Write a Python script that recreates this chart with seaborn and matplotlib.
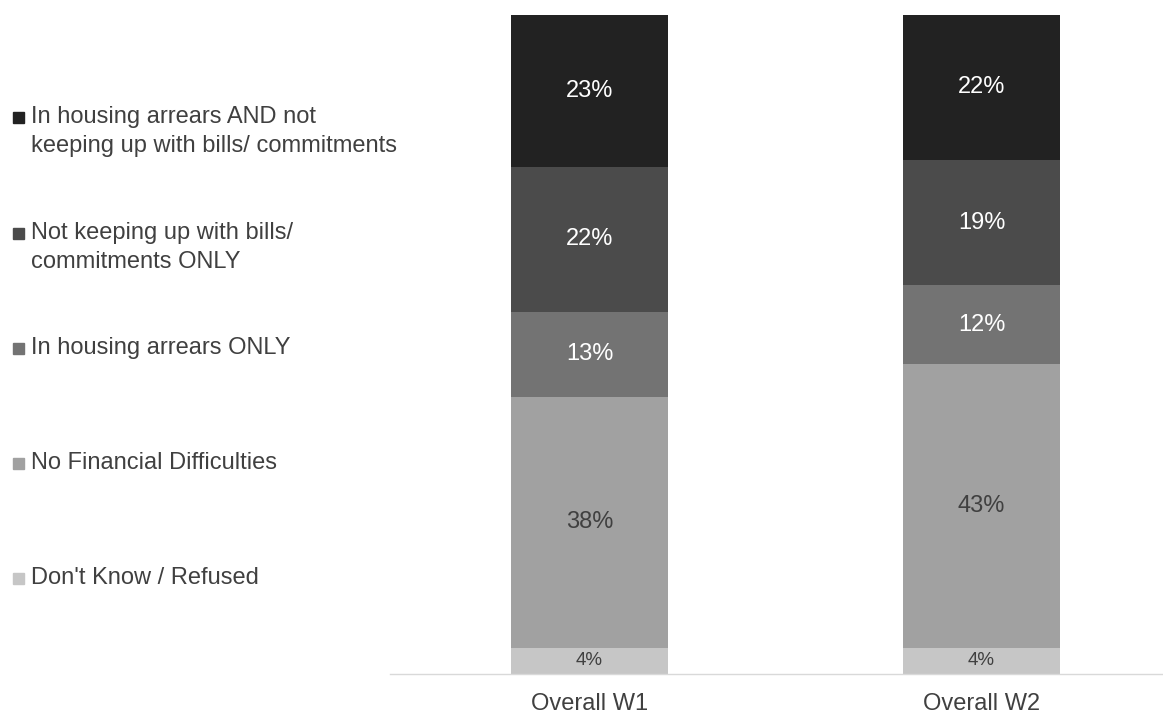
import matplotlib
matplotlib.use("Agg")
import matplotlib.pyplot as plt
import matplotlib.patches as mpatches
import pandas as pd
import seaborn as sns

waves = ["Overall W1", "Overall W2"]

# stacked from the bottom up
groups = [
    "Don't Know / Refused",
    "No Financial Difficulties",
    "In housing arrears ONLY",
    "Not keeping up with bills/\ncommitments ONLY",
    "In housing arrears AND not\nkeeping up with bills/ commitments",
]
w1_values = [4, 38, 13, 22, 23]
w2_values = [4, 43, 12, 19, 22]

colors = ["#c6c6c6", "#a1a1a1", "#737373", "#4b4b4b", "#222222"]
label_colors = ["#404040", "#404040", "white", "white", "white"]
label_sizes = [13.5, 17, 17, 17, 17]

sns.set_theme(style="white")
plt.rcParams["font.family"] = ["Liberation Sans", "DejaVu Sans"]

df = pd.DataFrame({"wave": waves})
for g, a, b in zip(groups, w1_values, w2_values):
    df[g] = [a, b]
cum = df[groups].cumsum(axis=1)
cum["wave"] = df["wave"]

fig = plt.figure(figsize=(11.63, 7.14), dpi=100)
ax = fig.add_axes([390 / 1163, 40 / 714, 773 / 1163, 659 / 714])

# draw tallest cumulative first so smaller ones paint over it
for i in reversed(range(len(groups))):
    sns.barplot(data=cum, x="wave", y=groups[i], color=colors[i], width=0.4,
                saturation=1, ax=ax, linewidth=0)

for j, wave in enumerate(waves):
    bottom = 0
    for i, g in enumerate(groups):
        v = df.loc[j, g]
        ax.text(j, bottom + v / 2, f"{v}%", ha="center", va="center",
                color=label_colors[i], fontsize=label_sizes[i])
        bottom += v

ax.set_xlim(-0.509, 1.463)
ax.set_ylim(0, 100)
ax.set_xlabel("")
ax.set_ylabel("")
ax.set_yticks([])
ax.tick_params(axis="x", length=0, pad=13.5, labelsize=17, labelcolor="#404040")
for s in ["top", "right", "left"]:
    ax.spines[s].set_visible(False)
ax.spines["bottom"].set_color("#d9d9d9")
ax.spines["bottom"].set_linewidth(1)

# legend on the left, first line aligned with marker
legend_y = [117, 233, 348, 463, 578]
for y, g, c in zip(legend_y, reversed(groups), reversed(colors)):
    fig.patches.append(mpatches.Rectangle((13 / 1163, 1 - (y + 6) / 714), 11 / 1163, 11 / 714,
                                          color=c, transform=fig.transFigure, figure=fig))
    for k, line in enumerate(g.split("\n")):
        fig.text(31 / 1163, 1 - (y + 29 * k) / 714, line, ha="left", va="center",
                 fontsize=17, color="#404040")

fig.savefig("out.png", dpi=100)
